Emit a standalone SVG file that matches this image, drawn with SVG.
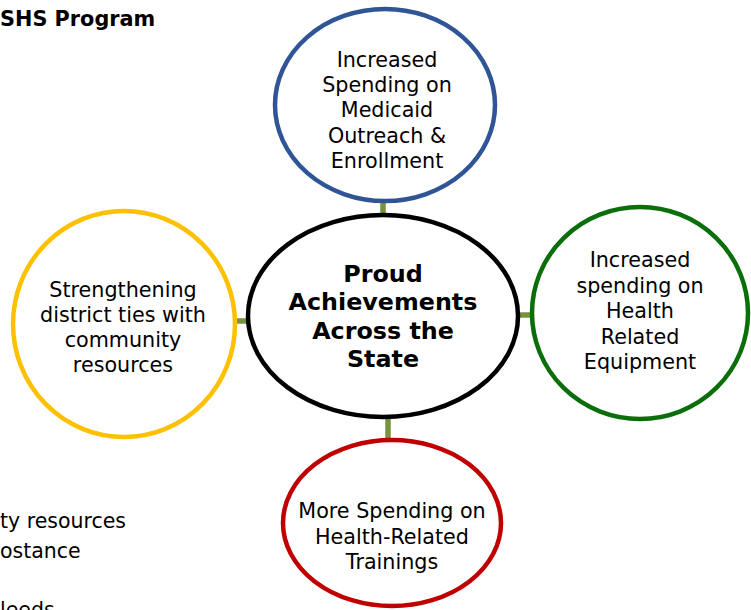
<svg xmlns="http://www.w3.org/2000/svg" width="751" height="610" viewBox="0 0 751 610">
<style>
.bg{fill:#ffffff}
.node{fill:#ffffff;stroke-width:4.5}
.t{font-family:"DejaVu Sans","Verdana",sans-serif;font-size:20.7px;fill:#000;text-anchor:middle}
.tb{font-family:"DejaVu Sans","Verdana",sans-serif;font-size:23.8px;font-weight:bold;fill:#000;text-anchor:middle}
.side{font-family:"DejaVu Sans","Verdana",sans-serif;font-size:20.5px;fill:#000}
.title{font-family:"DejaVu Sans","Verdana",sans-serif;font-size:20.8px;font-weight:bold;fill:#000}
.conn{stroke:#77933C;stroke-width:5.5;fill:none}
</style>
<rect class="bg" x="0" y="0" width="751" height="610"/>
<text class="title" x="0" y="26">SHS Program</text>
<text class="side" x="0" y="528">ty resources</text>
<text class="side" x="0" y="558">ostance</text>
<text class="side" x="0" y="617">leeds</text>
<g id="connectors">
<line class="conn" x1="383" y1="200" x2="383" y2="217"/>
<line class="conn" x1="517" y1="315" x2="533" y2="315"/>
<line class="conn" x1="388" y1="416" x2="388" y2="442"/>
<line class="conn" x1="234" y1="321" x2="249" y2="321"/>
</g>
<g id="center">
<ellipse class="node" cx="383" cy="316" rx="135" ry="101" stroke="#000000" stroke-width="5"/>
<text class="tb" x="383" y="282">Proud</text>
<text class="tb" x="383" y="310">Achievements</text>
<text class="tb" x="383" y="339">Across the</text>
<text class="tb" x="383" y="367">State</text>
</g>
<g id="top">
<ellipse class="node" cx="385" cy="105" rx="110" ry="96" stroke="#2F5597"/>
<text class="t" x="387" y="67">Increased</text>
<text class="t" x="387" y="92">Spending on</text>
<text class="t" x="387" y="117">Medicaid</text>
<text class="t" x="387" y="143">Outreach &amp;</text>
<text class="t" x="387" y="168">Enrollment</text>
</g>
<g id="right">
<ellipse class="node" cx="640" cy="313" rx="108" ry="106" stroke="#0A6E0A"/>
<text class="t" x="640" y="267">Increased</text>
<text class="t" x="640" y="293">spending on</text>
<text class="t" x="640" y="318">Health</text>
<text class="t" x="640" y="344">Related</text>
<text class="t" x="640" y="369">Equipment</text>
</g>
<g id="bottom">
<ellipse class="node" cx="392" cy="523" rx="109" ry="83" stroke="#C00000"/>
<text class="t" x="392" y="518">More Spending on</text>
<text class="t" x="392" y="544">Health-Related</text>
<text class="t" x="392" y="569">Trainings</text>
</g>
<g id="left">
<ellipse class="node" cx="124" cy="324" rx="111" ry="113" stroke="#FFC000"/>
<text class="t" x="123" y="297">Strengthening</text>
<text class="t" x="123" y="322">district ties with</text>
<text class="t" x="123" y="347">community</text>
<text class="t" x="123" y="372">resources</text>
</g>
</svg>
